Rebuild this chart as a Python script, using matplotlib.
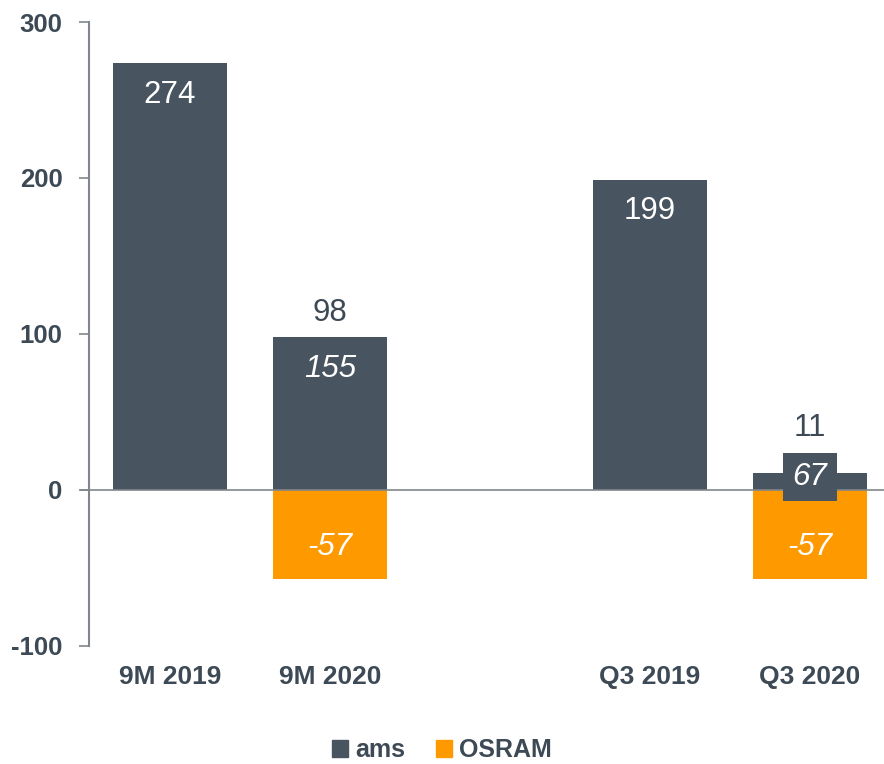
import matplotlib.pyplot as plt
import numpy as np

# EBIT contribution by period, ams and OSRAM (EUR m)
periods = ['9M 2019', '9M 2020', 'Q3 2019', 'Q3 2020']
ams = [274, 155, 199, 67]
osram = [0, -57, 0, -57]
totals = [274, 98, 199, 11]
y_ticks = [-100, 0, 100, 200, 300]

DARK = '#485560'
ORANGE = '#ff9900'
TEXT = '#3d4a55'
AXIS = '#80868c'

plt.rcParams['font.family'] = ['Liberation Sans', 'DejaVu Sans']

fig = plt.figure(figsize=(8.84, 7.64), dpi=100)
ax = fig.add_axes([0.1007, 0.1545, 0.8993, 0.8167])

# leave an empty slot between the 9M and Q3 groups
x = np.array([0, 1, 3, 4])
width = 0.71

ax.bar(x, totals, width, color=DARK, zorder=2)
ax.bar(x, osram, width, color=ORANGE, zorder=2)

for xi, a, o, t in zip(x, ams, osram, totals):
    if o == 0:
        # ams only: value sits inside the top of the bar
        ax.annotate(str(a), (xi, t), xytext=(0, -23), textcoords='offset points',
                    ha='center', va='center', fontsize=22.5, color='white')
        continue
    ax.annotate(str(o), (xi, o), xytext=(0, 23), textcoords='offset points',
                ha='center', va='center', fontsize=22.5, color='white', style='italic')
    if t > 40:
        ax.annotate(str(a), (xi, t), xytext=(0, -23), textcoords='offset points',
                    ha='center', va='center', fontsize=22.5, color='white', style='italic')
        ax.annotate(str(t), (xi, t), xytext=(0, 17), textcoords='offset points',
                    ha='center', va='center', fontsize=22.5, color=TEXT)
    else:
        # bar too short, put the ams value on a boxed label
        ax.annotate(str(a), (xi, t), xytext=(0, -3), textcoords='offset points',
                    ha='center', va='center', fontsize=22.5, color='white', style='italic',
                    zorder=4,
                    bbox=dict(boxstyle='square,pad=0.3', fc=DARK, ec='none'))
        ax.annotate(str(t), (xi, t), xytext=(0, 32), textcoords='offset points',
                    ha='center', va='center', fontsize=22.5, color=TEXT)

ax.axhline(0, color=AXIS, lw=1.2, zorder=3, xmin=-0.01, clip_on=False)

ax.set_xlim(-0.506, 4.4625)
ax.set_ylim(-100, 300)
ax.set_yticks(y_ticks)
ax.set_yticklabels([str(v) for v in y_ticks], fontsize=18.5, fontweight='bold', color=TEXT)
ax.set_xticks(x)
ax.set_xticklabels(periods, fontsize=19, fontweight='bold', color=TEXT)
ax.tick_params(axis='x', length=0, pad=14)
ax.tick_params(axis='y', length=7, width=1.2, color=AXIS, pad=12)

for side in ['top', 'right', 'bottom']:
    ax.spines[side].set_visible(False)
ax.spines['left'].set_color(AXIS)
ax.spines['left'].set_linewidth(1.5)

handles = [plt.Rectangle((0, 0), 1, 1, color=DARK), plt.Rectangle((0, 0), 1, 1, color=ORANGE)]
leg = fig.legend(handles, ['ams', 'OSRAM'], loc='center', bbox_to_anchor=(0.5, 0.018),
                 ncol=2, frameon=False, handlelength=0.65, handleheight=0.65,
                 handletextpad=0.3, columnspacing=1.2,
                 prop={'size': 18, 'weight': 'bold'})
for t in leg.get_texts():
    t.set_color(TEXT)

fig.savefig('out.png', dpi=100)
